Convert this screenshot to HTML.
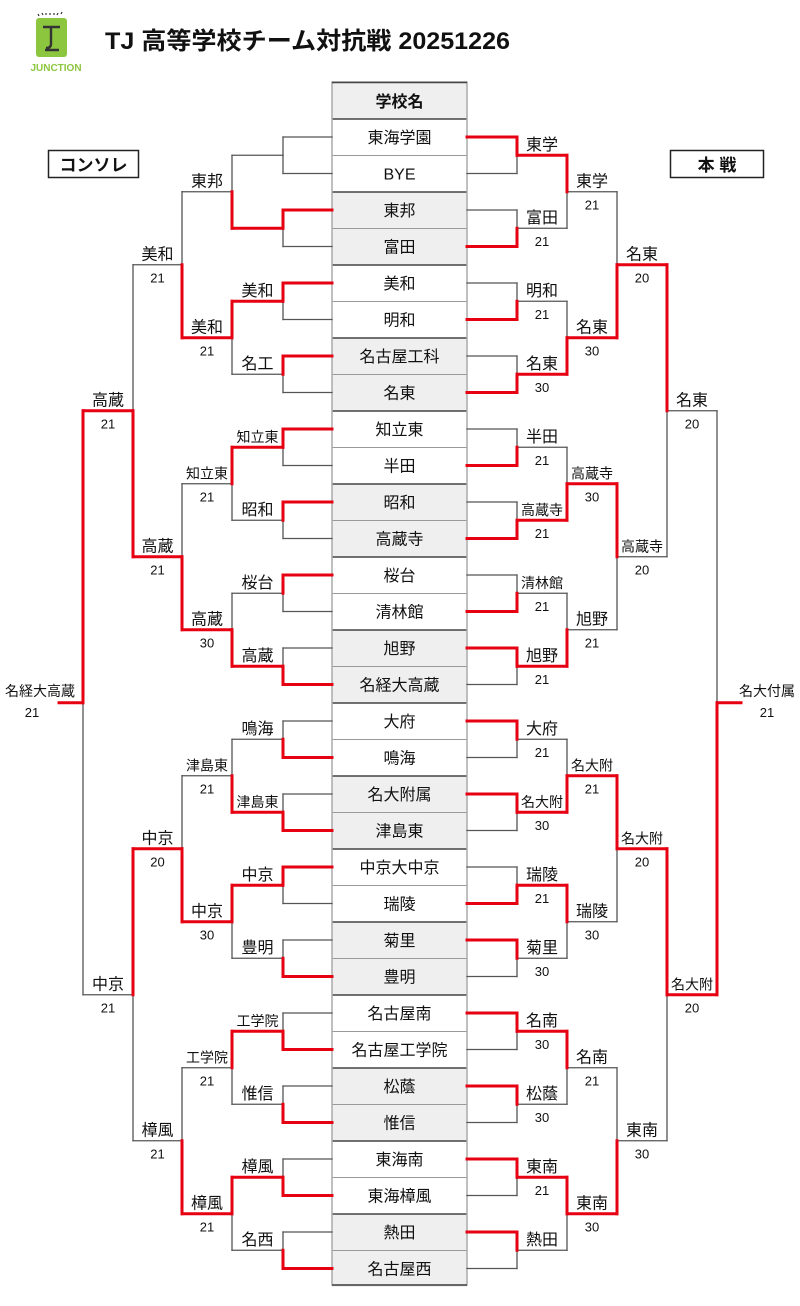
<!DOCTYPE html>
<html><head><meta charset="utf-8">
<style>
html,body{margin:0;padding:0;background:#fff;}
svg{display:block;}
text{font-family:"Liberation Sans","Noto Sans CJK JP",sans-serif;fill:#111;}
.lb{font-size:16px;text-anchor:middle;}
.sm{font-size:14px;text-anchor:middle;}
.sc{font-size:13px;text-anchor:middle;}
.tb{font-size:16px;text-anchor:middle;}
</style></head>
<body>
<svg id="s" width="800" height="1306" viewBox="0 0 800 1306" xmlns="http://www.w3.org/2000/svg">
<!-- logo -->
<rect x="36" y="18" width="31" height="39" rx="3" fill="#8cc63f"/>
<path d="M43 27 h17 M51 27 v17 q0 4 -5 4 M45 50 h14" stroke="#333" stroke-width="2.4" fill="none"/>
<path d="M38 14 l1 2 M42 13 l1 2 M46 13 v2 M50 13 v2 M54 13 v2 M58 13 l-1 2 M62 12 l-1 2" stroke="#333" stroke-width="1.2"/>
<text x="56" y="71" style="font-size:10px;font-weight:bold;fill:#8cc63f;text-anchor:middle;">JUNCTION</text>
<text x="105" y="49" textLength="405" lengthAdjust="spacingAndGlyphs" style="font-size:24px;font-weight:bold;">TJ 高等学校チーム対抗戦 20251226</text>
<!-- boxes -->
<rect x="48.5" y="150.5" width="90" height="27" fill="#fff" stroke="#222" stroke-width="1.5"/>
<text x="93.5" y="171" style="font-size:17px;font-weight:bold;text-anchor:middle;">コンソレ</text>
<rect x="670.5" y="150.5" width="93" height="27" fill="#fff" stroke="#222" stroke-width="1.5"/>
<text x="717" y="171" style="font-size:17px;font-weight:bold;text-anchor:middle;">本 戦</text>
<!-- table -->
<g id="tbl"></g>
<g id="lines"></g>
<text x="399.5" y="107" style="font-size:16px;font-weight:bold;text-anchor:middle;">学校名</text>
<g class="tb">
<text class="tb" x="399.5" y="143">東海学園</text>
<text class="tb" x="399.5" y="179.5">BYE</text>
<text class="tb" x="399.5" y="216">東邦</text>
<text class="tb" x="399.5" y="252.5">富田</text>
<text class="tb" x="399.5" y="289">美和</text>
<text class="tb" x="399.5" y="325.5">明和</text>
<text class="tb" x="399.5" y="362">名古屋工科</text>
<text class="tb" x="399.5" y="398.5">名東</text>
<text class="tb" x="399.5" y="435">知立東</text>
<text class="tb" x="399.5" y="471.5">半田</text>
<text class="tb" x="399.5" y="508">昭和</text>
<text class="tb" x="399.5" y="544.5">高蔵寺</text>
<text class="tb" x="399.5" y="581">桜台</text>
<text class="tb" x="399.5" y="617.5">清林館</text>
<text class="tb" x="399.5" y="654">旭野</text>
<text class="tb" x="399.5" y="690.5">名経大高蔵</text>
<text class="tb" x="399.5" y="727">大府</text>
<text class="tb" x="399.5" y="763.5">鳴海</text>
<text class="tb" x="399.5" y="800">名大附属</text>
<text class="tb" x="399.5" y="836.5">津島東</text>
<text class="tb" x="399.5" y="873">中京大中京</text>
<text class="tb" x="399.5" y="909.5">瑞陵</text>
<text class="tb" x="399.5" y="946">菊里</text>
<text class="tb" x="399.5" y="982.5">豊明</text>
<text class="tb" x="399.5" y="1019">名古屋南</text>
<text class="tb" x="399.5" y="1055.5">名古屋工学院</text>
<text class="tb" x="399.5" y="1092">松蔭</text>
<text class="tb" x="399.5" y="1128.5">惟信</text>
<text class="tb" x="399.5" y="1165">東海南</text>
<text class="tb" x="399.5" y="1201.5">東海樟風</text>
<text class="tb" x="399.5" y="1238">熱田</text>
<text class="tb" x="399.5" y="1274.5">名古屋西</text>
</g>
<!-- right labels L1 cx 542 -->
<text class="lb" x="542" y="150">東学</text>
<text class="lb" x="542" y="223">富田</text><text class="sc" x="542" y="246">21</text>
<text class="lb" x="542" y="296">明和</text><text class="sc" x="542" y="319">21</text>
<text class="lb" x="542" y="369">名東</text><text class="sc" x="542" y="392">30</text>
<text class="lb" x="542" y="442">半田</text><text class="sc" x="542" y="465">21</text>
<text class="sm" x="542" y="515">高蔵寺</text><text class="sc" x="542" y="538">21</text>
<text class="sm" x="542" y="588">清林館</text><text class="sc" x="542" y="611">21</text>
<text class="lb" x="542" y="661">旭野</text><text class="sc" x="542" y="684">21</text>
<text class="lb" x="542" y="734">大府</text><text class="sc" x="542" y="757">21</text>
<text class="sm" x="542" y="807">名大附</text><text class="sc" x="542" y="830">30</text>
<text class="lb" x="542" y="880">瑞陵</text><text class="sc" x="542" y="903">21</text>
<text class="lb" x="542" y="953">菊里</text><text class="sc" x="542" y="976">30</text>
<text class="lb" x="542" y="1026">名南</text><text class="sc" x="542" y="1049">30</text>
<text class="lb" x="542" y="1099">松蔭</text><text class="sc" x="542" y="1122">30</text>
<text class="lb" x="542" y="1172">東南</text><text class="sc" x="542" y="1195">21</text>
<text class="lb" x="542" y="1245">熱田</text>
<!-- right L2 cx 592 -->
<text class="lb" x="592" y="186.5">東学</text><text class="sc" x="592" y="209.5">21</text>
<text class="lb" x="592" y="332.5">名東</text><text class="sc" x="592" y="355.5">30</text>
<text class="sm" x="592" y="478.5">高蔵寺</text><text class="sc" x="592" y="501.5">30</text>
<text class="lb" x="592" y="624.5">旭野</text><text class="sc" x="592" y="647.5">21</text>
<text class="sm" x="592" y="770.5">名大附</text><text class="sc" x="592" y="793.5">21</text>
<text class="lb" x="592" y="916.5">瑞陵</text><text class="sc" x="592" y="939.5">30</text>
<text class="lb" x="592" y="1062.5">名南</text><text class="sc" x="592" y="1085.5">21</text>
<text class="lb" x="592" y="1208.5">東南</text><text class="sc" x="592" y="1231.5">30</text>
<!-- right L3 cx 642 -->
<text class="lb" x="642" y="259.5">名東</text><text class="sc" x="642" y="282.5">20</text>
<text class="sm" x="642" y="551.5">高蔵寺</text><text class="sc" x="642" y="574.5">20</text>
<text class="sm" x="642" y="843.5">名大附</text><text class="sc" x="642" y="866.5">20</text>
<text class="lb" x="642" y="1135.5">東南</text><text class="sc" x="642" y="1158.5">30</text>
<!-- right L4 cx 692 -->
<text class="lb" x="692" y="405.5">名東</text><text class="sc" x="692" y="428.5">20</text>
<text class="sm" x="692" y="989.5">名大附</text><text class="sc" x="692" y="1012.5">20</text>
<text class="sm" x="767" y="696">名大付属</text><text class="sc" x="767" y="717">21</text>
<!-- left L1 cx 257.5 -->
<text class="lb" x="257.5" y="296">美和</text>
<text class="lb" x="257.5" y="369">名工</text>
<text class="sm" x="257.5" y="442">知立東</text>
<text class="lb" x="257.5" y="515">昭和</text>
<text class="lb" x="257.5" y="588">桜台</text>
<text class="lb" x="257.5" y="661">高蔵</text>
<text class="lb" x="257.5" y="734">鳴海</text>
<text class="sm" x="257.5" y="807">津島東</text>
<text class="lb" x="257.5" y="880">中京</text>
<text class="lb" x="257.5" y="953">豊明</text>
<text class="sm" x="257.5" y="1026">工学院</text>
<text class="lb" x="257.5" y="1099">惟信</text>
<text class="lb" x="257.5" y="1172">樟風</text>
<text class="lb" x="257.5" y="1245">名西</text>
<!-- left L2 cx 207 -->
<text class="lb" x="207" y="186.5">東邦</text>
<text class="lb" x="207" y="332.5">美和</text><text class="sc" x="207" y="355.5">21</text>
<text class="sm" x="207" y="478.5">知立東</text><text class="sc" x="207" y="501.5">21</text>
<text class="lb" x="207" y="624.5">高蔵</text><text class="sc" x="207" y="647.5">30</text>
<text class="sm" x="207" y="770.5">津島東</text><text class="sc" x="207" y="793.5">21</text>
<text class="lb" x="207" y="916.5">中京</text><text class="sc" x="207" y="939.5">30</text>
<text class="sm" x="207" y="1062.5">工学院</text><text class="sc" x="207" y="1085.5">21</text>
<text class="lb" x="207" y="1208.5">樟風</text><text class="sc" x="207" y="1231.5">21</text>
<!-- left L3 cx 157.5 -->
<text class="lb" x="157.5" y="259.5">美和</text><text class="sc" x="157.5" y="282.5">21</text>
<text class="lb" x="157.5" y="551.5">高蔵</text><text class="sc" x="157.5" y="574.5">21</text>
<text class="lb" x="157.5" y="843.5">中京</text><text class="sc" x="157.5" y="866.5">20</text>
<text class="lb" x="157.5" y="1135.5">樟風</text><text class="sc" x="157.5" y="1158.5">21</text>
<!-- left L4 cx 108 -->
<text class="lb" x="108" y="405.5">高蔵</text><text class="sc" x="108" y="428.5">21</text>
<text class="lb" x="108" y="989.5">中京</text><text class="sc" x="108" y="1012.5">21</text>
<text class="sm" x="40" y="696">名経大高蔵</text><text class="sc" x="32" y="717">21</text>
</svg>
<script>
(function(){
var NS="http://www.w3.org/2000/svg";
function el(p,n,a){var e=document.createElementNS(NS,n);for(var k in a)e.setAttribute(k,a[k]);p.appendChild(e);return e;}
var tbl=document.getElementById("tbl"),L=document.getElementById("lines");
var top0=119,rh=36.5;
el(tbl,"rect",{x:332,y:82,width:135,height:37,fill:"#efefef"});
for(var i=0;i<32;i++){var g=Math.floor(i/2)%2==1;
 el(tbl,"rect",{x:332,y:top0+i*rh,width:135,height:rh,fill:g?"#efefef":"#fff"});}
for(var i=1;i<32;i++){var y=top0+i*rh;
 el(tbl,"line",{x1:332,x2:467,y1:y,y2:y,stroke:i%2==0?"#444":"#999","stroke-width":i%2==0?1.6:1});}
el(tbl,"line",{x1:332,x2:467,y1:119,y2:119,stroke:"#444","stroke-width":1.6});
el(tbl,"rect",{x:332,y:82,width:135,height:1203,fill:"none",stroke:"#aaa","stroke-width":1.5});
el(tbl,"line",{x1:332,x2:467,y1:82.5,y2:82.5,stroke:"#444","stroke-width":1.5});
el(tbl,"line",{x1:332,x2:467,y1:1285,y2:1285,stroke:"#444","stroke-width":1.5});
var ys=[[]];for(var i=0;i<32;i++)ys[0].push(137+rh*i);
for(var l=1;l<=5;l++){ys[l]=[];for(var j=0;j<ys[l-1].length/2;j++)ys[l].push((ys[l-1][2*j]+ys[l-1][2*j+1])/2);}
var RED="#e60012",BLK="#555";
function side(xs,W,endx){
 var reds=[],blks=[];
 for(var l=0;l<5;l++){var w=W[l];
  for(var j=0;j<w.length;j++){
   var a=ys[l][2*j],b=ys[l][2*j+1],m=ys[l+1][j],x0=xs[l],x1=xs[l+1];
   (w[j]==0?reds:blks).push([x0,a,x1,a]);
   (w[j]==1?reds:blks).push([x0,b,x1,b]);
   (w[j]==0?reds:blks).push([x1,a,x1,m]);
   (w[j]==1?reds:blks).push([x1,m,x1,b]);
  }}
 reds.push([xs[5],ys[5][0],endx,ys[5][0]]);
 blks.forEach(function(s){el(L,"line",{x1:s[0],y1:s[1],x2:s[2],y2:s[3],stroke:BLK,"stroke-width":1.3,"stroke-linecap":"square"});});
 reds.forEach(function(s){el(L,"line",{x1:s[0],y1:s[1],x2:s[2],y2:s[3],stroke:RED,"stroke-width":3,"stroke-linecap":"square"});});
}
side([467,517,567,617,667,717],[[0,1,1,1,1,1,1,0,0,0,1,0,0,0,0,0],[0,1,1,1,1,0,0,0],[1,0,0,1],[0,0],[1]],741);
side([332,283,232,182,133,83],[[-1,0,0,0,0,0,0,1,1,1,0,1,1,1,1,1],[1,0,0,1,1,0,0,0],[1,1,1,1],[1,0],[0]],59);
})();
</script>
</body></html>
